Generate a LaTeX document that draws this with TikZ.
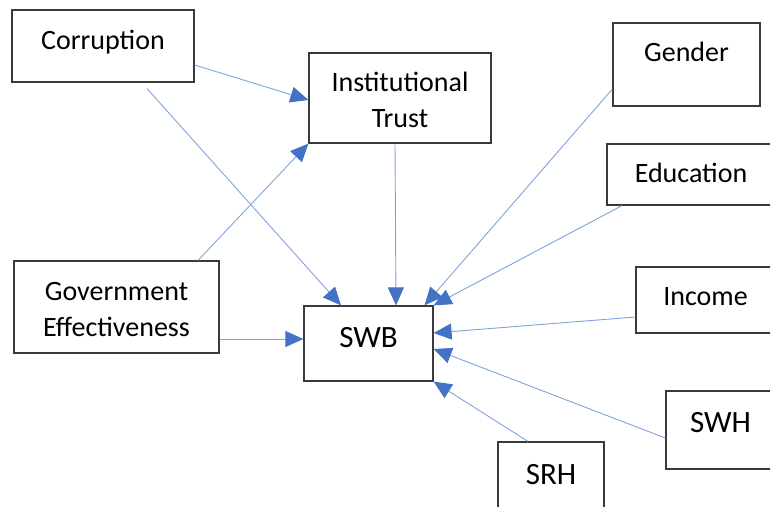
\documentclass[tikz,border=0pt]{standalone}
\usepackage{fontspec}
\setmainfont{Carlito}
\usetikzlibrary{arrows.meta}
\definecolor{boxline}{HTML}{3A3A3A}
\definecolor{linkblue}{HTML}{7FA3DC}
\definecolor{tipblue}{HTML}{4472C4}

\begin{document}
\begin{tikzpicture}[
    x=1pt, y=-1pt,
    box/.style={draw=boxline, line width=1.2pt, rectangle, inner sep=0pt, align=center, font=\fontsize{28}{36}\selectfont},
    single/.style={box, text height=20pt, text depth=#1},
    double/.style={box, text height=59pt, text depth=0pt},
    big/.style={font=\fontsize{31}{36}\selectfont},
    link/.style={draw=linkblue, line width=0.9pt, -{Triangle[length=18pt, width=16pt, color=tipblue]}}
]
    \useasboundingbox (0,0) rectangle (770,506);

    \node[single=14pt, minimum width=182pt, minimum height=72pt] (corr) at (103,46) {Corruption};
    \node[double, minimum width=182pt, minimum height=90pt] (trust) at (400,98) {Institutional\\Trust};
    \node[single=27pt, minimum width=147pt, minimum height=83pt] (gender) at (686.5,64.5) {Gender};
    \node[single=5pt, minimum width=168pt, minimum height=61pt] (edu) at (691,174.5) {Education};
    \node[double, minimum width=205pt, minimum height=92pt] (gov) at (116.5,307) {Government\\Effectiveness};
    \node[single=12pt, big, minimum width=129pt, minimum height=75pt] (swb) at (368.5,343.5) {SWB};
    \node[single=10pt, minimum width=139pt, minimum height=66pt] (income) at (705.5,300) {Income};
    \node[single=15pt, big, minimum width=109pt, minimum height=78pt] (swh) at (720.5,430) {SWH};
    \node[single=13pt, big, minimum width=106pt, minimum height=78pt] (srh) at (551,481) {SRH};

    \draw[link] ([yshift=-19pt]corr.east) -- ([yshift=-2pt]trust.west);
    \draw[link] ([xshift=44pt, yshift=-6pt]corr.south) -- ([xshift=-27.5pt]swb.north);
    \draw[link] ([xshift=81.5pt]gov.north) -- (trust.south west);
    \draw[link] ([yshift=-32pt]gov.east) -- ([yshift=4.5pt]swb.west);
    \draw[link] ([xshift=-5pt]trust.south) -- ([xshift=27.5pt]swb.north);
    \draw[link] ([yshift=-24.5pt]gender.west) -- ([xshift=56pt]swb.north);
    \draw[link] ([xshift=-69pt]edu.south) -- (swb.north east);
    \draw[link] ([yshift=-17pt]income.west) -- ([yshift=10.5pt]swb.east);
    \draw[link] ([yshift=-8pt]swh.west) -- ([yshift=-5.5pt]swb.east);
    \draw[link] ([xshift=-23pt]srh.north) -- (swb.south east);
\end{tikzpicture}
\end{document}
